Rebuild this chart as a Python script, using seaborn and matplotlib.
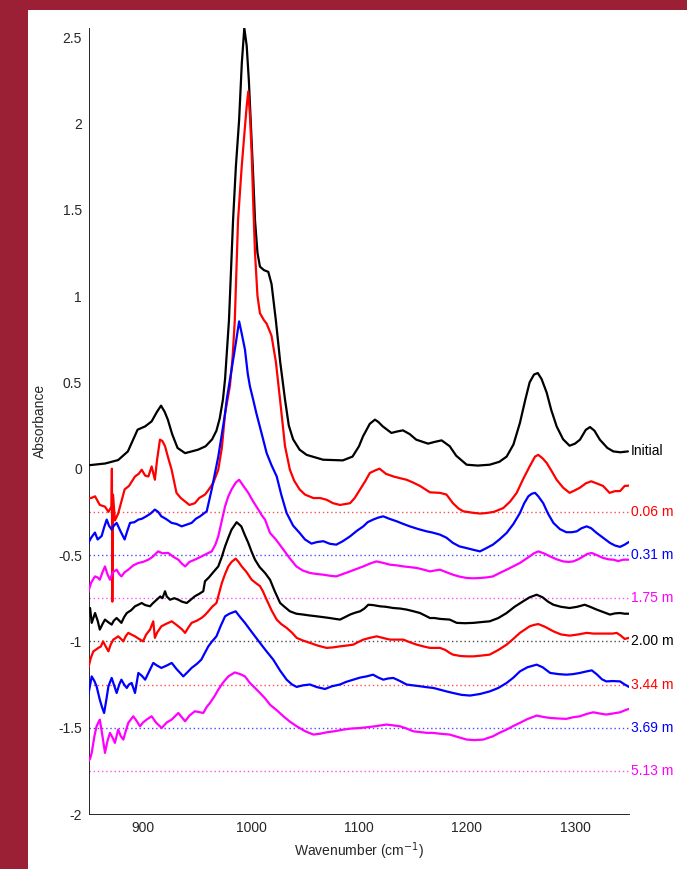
import numpy as np
import pandas as pd
import matplotlib
matplotlib.use("Agg")
import matplotlib.pyplot as plt
from matplotlib.patches import Rectangle
import seaborn as sns

# spectra (wavenumber, absorbance with offsets already applied)
initial_x = [850, 865, 877, 886, 895, 902, 908, 913, 916.7, 920, 923, 927, 932, 939, 951, 958, 964, 968, 971, 974,
             976, 979.6, 983.4, 986, 989, 991.5, 993.8, 996, 998, 999.7, 1002, 1003.7, 1006, 1008.3, 1012, 1016, 1019,
             1023, 1027, 1031.5, 1035, 1039, 1045, 1051.5, 1066.7, 1085, 1094, 1100, 1103.7, 1110, 1114.8, 1118, 1122,
             1130, 1135, 1140.7, 1147, 1153, 1164, 1170, 1176.5, 1184, 1190, 1199.7, 1210, 1221, 1230, 1236.7, 1243,
             1249, 1254, 1258, 1262, 1265.5, 1269, 1273.8, 1278, 1283, 1289, 1295, 1300, 1304.6, 1310, 1313.9, 1318,
             1323, 1330, 1335.5, 1342, 1349]
initial_y = [0.02, 0.03, 0.05, 0.10, 0.226, 0.245, 0.274, 0.33, 0.365, 0.33, 0.284, 0.20, 0.12, 0.09, 0.11, 0.13, 0.17,
             0.22, 0.29, 0.40, 0.52, 0.86, 1.44, 1.75, 2.02, 2.35, 2.552, 2.45, 2.25, 2.02, 1.70, 1.44, 1.25, 1.17, 1.15,
             1.14, 1.07, 0.86, 0.62, 0.40, 0.25, 0.17, 0.11, 0.08, 0.052, 0.048, 0.07, 0.13, 0.187, 0.26, 0.284, 0.27,
             0.245, 0.207, 0.215, 0.222, 0.20, 0.168, 0.145, 0.155, 0.164, 0.13, 0.075, 0.023, 0.018, 0.023, 0.04,
             0.07, 0.14, 0.265, 0.40, 0.50, 0.545, 0.554, 0.52, 0.44, 0.34, 0.245, 0.17, 0.133, 0.145, 0.168, 0.225,
             0.241, 0.22, 0.168, 0.12, 0.10, 0.095, 0.10]

red1_x = [849.4, 852, 855.6, 860, 864.8, 868, 870.8, 871.2, 871.6, 872.2, 874, 877, 880, 883, 887, 892.6, 896, 898.8,
          902, 905, 908, 911, 913, 915.7, 918, 920.4, 923, 926.5, 931, 935, 939, 943, 948, 952, 957.4, 961, 965, 969.7,
          973, 976, 980.5, 983, 985, 988, 991.4, 994, 996, 997.5, 999, 1000.6, 1002, 1003.7, 1006, 1008.3, 1012,
          1014.5, 1019, 1023, 1026.9, 1031.5, 1036, 1040, 1045, 1050, 1057.7, 1064, 1070, 1076, 1082.4, 1091.7, 1096,
          1101, 1106, 1110, 1115, 1119, 1125, 1131.8, 1138, 1144, 1150, 1156.5, 1165.7, 1175, 1181, 1187, 1192,
          1196.6, 1205, 1212, 1218, 1225, 1233.6, 1240, 1246, 1252, 1258, 1263, 1266, 1270, 1273.8, 1278, 1283, 1289,
          1295, 1300, 1304.6, 1310, 1315, 1320, 1326, 1332, 1337, 1341.7, 1346, 1350]
red1_y = [-0.17, -0.17, -0.16, -0.21, -0.22, -0.25, -0.22, 0.0, -0.77, -0.15, -0.30, -0.26, -0.19, -0.12, -0.10,
          -0.045, -0.03, -0.006, -0.04, -0.045, 0.013, -0.064, 0.05, 0.168, 0.16, 0.13, 0.07, -0.006, -0.14, -0.17,
          -0.19, -0.21, -0.20, -0.17, -0.15, -0.12, -0.083, -0.006, 0.12, 0.32, 0.48, 0.65, 0.86, 1.44, 1.75, 1.95,
          2.10, 2.185, 2.05, 1.83, 1.55, 1.25, 1.00, 0.90, 0.86, 0.84, 0.77, 0.62, 0.40, 0.13, -0.006, -0.07, -0.12,
          -0.15, -0.17, -0.17, -0.18, -0.20, -0.21, -0.20, -0.17, -0.12, -0.07, -0.025, -0.01, 0.0, -0.03, -0.045,
          -0.055, -0.064, -0.08, -0.10, -0.137, -0.14, -0.15, -0.2, -0.23, -0.247, -0.255, -0.26, -0.257, -0.25,
          -0.228, -0.19, -0.14, -0.06, 0.013, 0.07, 0.08, 0.06, 0.033, -0.01, -0.064, -0.11, -0.14, -0.125, -0.11,
          -0.085, -0.073, -0.085, -0.10, -0.14, -0.13, -0.13, -0.10, -0.098]

blue1_x = [849.4, 852, 855.5, 858, 861.7, 864, 866.4, 868.5, 871, 873, 875.6, 879, 883, 885.5, 888, 892, 895.7, 899,
           903, 907, 911, 914, 917, 921, 926.5, 931, 935.8, 940, 945, 949, 952.8, 959, 963.6, 966.5, 969.7, 973, 976,
           977.5, 982, 986, 989, 991.5, 994.4, 997, 999, 1002, 1005, 1010, 1014.5, 1019, 1023.8, 1028, 1033, 1039,
           1045, 1050, 1056, 1061, 1067, 1073, 1079, 1085, 1091.7, 1098, 1104, 1108, 1113, 1118, 1122.5, 1128, 1135,
           1141, 1147, 1155, 1162.7, 1168, 1175, 1181, 1187, 1193, 1199.7, 1206, 1212, 1218, 1224, 1230, 1236.7, 1243,
           1249, 1253, 1256.8, 1260, 1263, 1266, 1270.6, 1275, 1280, 1286, 1292, 1297, 1301.6, 1306, 1310.8, 1315,
           1320, 1326, 1332.4, 1337, 1341.7, 1346, 1350]
blue1_y = [-0.43, -0.40, -0.37, -0.41, -0.39, -0.34, -0.295, -0.33, -0.353, -0.33, -0.314, -0.36, -0.41, -0.36,
           -0.314, -0.31, -0.295, -0.29, -0.276, -0.26, -0.237, -0.25, -0.276, -0.29, -0.314, -0.32, -0.334, -0.325,
           -0.314, -0.29, -0.276, -0.247, -0.12, -0.03, 0.07, 0.20, 0.32, 0.40, 0.573, 0.73, 0.853, 0.78, 0.69, 0.55,
           0.477, 0.40, 0.32, 0.20, 0.09, 0.02, -0.045, -0.15, -0.257, -0.33, -0.372, -0.41, -0.434, -0.425, -0.42,
           -0.435, -0.44, -0.42, -0.392, -0.36, -0.334, -0.31, -0.295, -0.283, -0.276, -0.29, -0.305, -0.32, -0.334,
           -0.35, -0.363, -0.37, -0.382, -0.40, -0.43, -0.45, -0.46, -0.47, -0.479, -0.46, -0.44, -0.41, -0.372, -0.32,
           -0.257, -0.20, -0.16, -0.145, -0.14, -0.16, -0.2, -0.26, -0.314, -0.35, -0.368, -0.368, -0.363, -0.345,
           -0.334, -0.345, -0.372, -0.40, -0.43, -0.445, -0.453, -0.44, -0.424]

mag1_x = [849, 852, 855.5, 858, 860, 862.5, 864.8, 867, 869.4, 872, 875.6, 878, 880, 883, 886.4, 891, 895.7, 900, 905,
          909, 914, 918, 923.4, 928, 932.7, 936, 939, 943, 948, 952, 957.4, 963.6, 967, 969.7, 973, 976, 979, 982, 986,
          989, 993, 997.5, 1002, 1006.8, 1010, 1013, 1017.6, 1023, 1030, 1036, 1042, 1048, 1054.6, 1061, 1067, 1073,
          1079, 1085, 1091.7, 1098, 1104, 1110, 1116, 1122, 1128.7, 1135, 1141, 1147, 1153.4, 1160, 1165.7, 1170,
          1175, 1181, 1187, 1193, 1199.7, 1206, 1212, 1218, 1224, 1230, 1236.7, 1243, 1249, 1254, 1258, 1262, 1266,
          1271, 1277, 1283, 1289, 1294, 1298.4, 1303, 1307.7, 1311, 1315.5, 1320, 1326, 1331, 1335.5, 1340, 1344.7,
          1350]
mag1_y = [-0.72, -0.66, -0.624, -0.63, -0.643, -0.60, -0.566, -0.61, -0.643, -0.60, -0.585, -0.61, -0.624, -0.60,
          -0.585, -0.56, -0.546, -0.54, -0.527, -0.51, -0.479, -0.49, -0.488, -0.51, -0.527, -0.55, -0.566, -0.54,
          -0.527, -0.515, -0.498, -0.479, -0.44, -0.392, -0.30, -0.218, -0.16, -0.12, -0.08, -0.064, -0.10, -0.14,
          -0.19, -0.237, -0.27, -0.295, -0.372, -0.41, -0.469, -0.52, -0.566, -0.59, -0.604, -0.61, -0.614, -0.62,
          -0.624, -0.61, -0.595, -0.58, -0.566, -0.55, -0.537, -0.545, -0.556, -0.56, -0.566, -0.57, -0.575, -0.585,
          -0.595, -0.59, -0.585, -0.60, -0.614, -0.625, -0.633, -0.635, -0.633, -0.63, -0.624, -0.605, -0.585, -0.565,
          -0.546, -0.525, -0.508, -0.49, -0.479, -0.49, -0.508, -0.525, -0.537, -0.54, -0.537, -0.525, -0.508, -0.495,
          -0.488, -0.50, -0.517, -0.525, -0.527, -0.535, -0.527, -0.527]

black2_x = [851, 852.5, 855.6, 858, 860, 862.5, 864.8, 868, 871, 873, 875.6, 878, 880, 882.5, 885, 889, 892.6, 895,
            898.8, 902, 906.5, 909, 912.7, 916, 918, 920.4, 922, 925, 929, 932.7, 936, 940.5, 944, 948, 952, 955.8,
            957.4, 961, 965, 969.7, 973, 976, 979, 982, 986.7, 991, 994, 997.5, 1000.5, 1003.7, 1008, 1013, 1017.6,
            1022, 1027, 1031, 1036, 1042, 1048.4, 1054, 1060.8, 1067, 1073, 1078, 1082.4, 1087, 1091.7, 1096, 1101,
            1105, 1108.6, 1113, 1119.4, 1125, 1131.8, 1138, 1144, 1150, 1156.5, 1161, 1165.7, 1170, 1175, 1184, 1190.5,
            1198, 1206, 1214, 1221, 1229, 1236.7, 1244, 1252, 1258, 1264.5, 1270, 1275, 1280, 1287, 1295, 1302, 1309,
            1314, 1320, 1326, 1332.4, 1337, 1341.7, 1346, 1350]
black2_y = [-0.807, -0.893, -0.836, -0.88, -0.932, -0.90, -0.874, -0.89, -0.903, -0.88, -0.865, -0.88, -0.893, -0.86,
            -0.836, -0.82, -0.797, -0.79, -0.778, -0.79, -0.797, -0.78, -0.759, -0.74, -0.75, -0.71, -0.74, -0.759,
            -0.75, -0.759, -0.77, -0.778, -0.76, -0.739, -0.725, -0.71, -0.652, -0.63, -0.60, -0.566, -0.51, -0.45,
            -0.40, -0.353, -0.31, -0.334, -0.38, -0.43, -0.48, -0.527, -0.57, -0.604, -0.643, -0.71, -0.778, -0.80,
            -0.826, -0.84, -0.845, -0.85, -0.855, -0.86, -0.865, -0.87, -0.874, -0.86, -0.845, -0.835, -0.826, -0.81,
            -0.788, -0.79, -0.797, -0.80, -0.807, -0.81, -0.816, -0.825, -0.836, -0.85, -0.865, -0.865, -0.870, -0.874,
            -0.893, -0.895, -0.893, -0.888, -0.884, -0.865, -0.836, -0.80, -0.768, -0.745, -0.73, -0.745, -0.77,
            -0.788, -0.80, -0.807, -0.80, -0.788, -0.80, -0.816, -0.83, -0.845, -0.838, -0.836, -0.84, -0.84]

red2_x = [849.4, 851.5, 854, 856, 858.6, 861, 863, 865.5, 868, 870, 872.5, 875, 877, 879.5, 881.8, 884, 886.4, 889,
          892.6, 896, 900, 903, 906.5, 909.5, 911, 913, 917, 921, 926.6, 930, 932.7, 936, 939, 942, 945, 950, 954, 957,
          960.5, 964, 968, 970.5, 973, 976, 979, 982, 985.8, 988.5, 991.4, 996, 1000.6, 1005, 1008.3, 1011, 1014.5,
          1019, 1023.8, 1028, 1033, 1038, 1042.3, 1048, 1054.6, 1062, 1070, 1076, 1082.4, 1088, 1094.7, 1099, 1104,
          1110, 1116.4, 1122, 1128.7, 1135, 1141, 1147, 1153.4, 1160, 1165.7, 1170, 1175, 1180, 1184, 1187, 1194,
          1200, 1206, 1214, 1221, 1229, 1236.7, 1243, 1249, 1254, 1258, 1262, 1266, 1272, 1280, 1287, 1295, 1303,
          1310.8, 1317, 1323, 1330, 1335, 1338.6, 1342, 1346, 1350]
red2_y = [-1.154, -1.10, -1.058, -1.05, -1.038, -1.03, -1.0, -1.03, -1.058, -1.02, -0.99, -0.98, -0.971, -0.985, -1.0,
          -0.97, -0.951, -0.96, -0.971, -0.985, -1.0, -0.96, -0.932, -0.884, -0.98, -0.95, -0.913, -0.90, -0.884,
          -0.90, -0.913, -0.93, -0.951, -0.92, -0.893, -0.88, -0.865, -0.85, -0.826, -0.80, -0.778, -0.72, -0.662,
          -0.61, -0.566, -0.54, -0.521, -0.54, -0.566, -0.60, -0.643, -0.665, -0.68, -0.71, -0.759, -0.82, -0.874,
          -0.90, -0.922, -0.95, -0.98, -0.995, -1.009, -1.025, -1.038, -1.035, -1.029, -1.025, -1.019, -1.005, -0.99,
          -0.98, -0.971, -0.98, -0.99, -0.99, -0.99, -1.005, -1.019, -1.03, -1.038, -1.038, -1.038, -1.05, -1.067,
          -1.077, -1.085, -1.087, -1.087, -1.082, -1.077, -1.05, -1.019, -0.985, -0.951, -0.93, -0.913, -0.905, -0.9,
          -0.915, -0.942, -0.96, -0.967, -0.96, -0.951, -0.955, -0.955, -0.955, -0.955, -0.951, -0.965, -0.986, -0.98]

blue2_x = [849.4, 852.5, 855, 857, 860, 862, 864, 866, 868, 871, 873, 875.6, 878, 880, 882.5, 885, 887, 889.5, 892.6,
           895.7, 899, 902, 906, 909.5, 913, 917, 922, 926.6, 931, 934, 937.3, 941, 945, 950, 954, 957, 960.5, 964,
           968, 972, 976, 980, 985.8, 990, 994.4, 999, 1003.7, 1008.3, 1014, 1020.6, 1027, 1033, 1038, 1042.3, 1048,
           1054.6, 1061, 1068.5, 1075, 1082.4, 1088, 1094.7, 1101, 1107, 1113, 1118, 1122.5, 1127, 1131.8, 1138, 1144,
           1150, 1156.5, 1162, 1168.8, 1175, 1181, 1187, 1195, 1202.8, 1212, 1221, 1229, 1236.7, 1243, 1249, 1256,
           1264.5, 1270, 1277, 1285, 1292, 1298, 1304.6, 1310, 1315.5, 1320, 1325, 1329, 1335, 1341.7, 1346, 1350]
blue2_y = [-1.309, -1.203, -1.23, -1.26, -1.338, -1.38, -1.415, -1.34, -1.26, -1.212, -1.25, -1.299, -1.25, -1.222,
           -1.25, -1.27, -1.25, -1.241, -1.299, -1.183, -1.20, -1.222, -1.17, -1.125, -1.14, -1.154, -1.14, -1.125,
           -1.16, -1.18, -1.203, -1.18, -1.154, -1.13, -1.106, -1.07, -1.029, -1.0, -0.971, -0.91, -0.855, -0.84,
           -0.826, -0.86, -0.893, -0.932, -0.971, -1.009, -1.055, -1.106, -1.17, -1.222, -1.25, -1.264, -1.255, -1.25,
           -1.265, -1.276, -1.26, -1.25, -1.235, -1.222, -1.21, -1.203, -1.193, -1.21, -1.222, -1.215, -1.212, -1.23,
           -1.25, -1.255, -1.26, -1.265, -1.27, -1.28, -1.29, -1.299, -1.31, -1.314, -1.305, -1.29, -1.27, -1.241,
           -1.21, -1.174, -1.15, -1.135, -1.15, -1.183, -1.19, -1.193, -1.19, -1.183, -1.175, -1.168, -1.19, -1.22,
           -1.232, -1.23, -1.232, -1.25, -1.264]

mag2_x = [849.4, 851, 852.5, 855, 857, 860, 862.5, 864.8, 867, 869.4, 872, 874, 877, 879.5, 881.8, 884, 886.4, 891, 894,
          897.2, 900, 903.4, 908, 912, 917.3, 922, 926.6, 932.7, 936, 939, 943, 948, 952, 955.8, 959, 962, 966, 969.7,
          974, 979, 985, 990, 994.4, 999, 1003.7, 1008.3, 1013, 1017.6, 1024, 1030, 1036, 1042.3, 1050, 1057.7, 1064,
          1070, 1078, 1085.5, 1093, 1101, 1108, 1114.8, 1120, 1125.6, 1132, 1138, 1144, 1150.3, 1156, 1162.7, 1168,
          1175, 1184, 1192, 1199.7, 1207, 1215, 1224, 1230, 1236.7, 1243, 1249, 1256, 1264.5, 1270, 1277, 1285, 1292,
          1298, 1304.6, 1311, 1317, 1323, 1329, 1335, 1341.7, 1346, 1350]
mag2_y = [-1.695, -1.68, -1.646, -1.55, -1.492, -1.453, -1.55, -1.646, -1.58, -1.53, -1.56, -1.588, -1.511, -1.55,
          -1.569, -1.52, -1.472, -1.434, -1.46, -1.492, -1.47, -1.453, -1.434, -1.47, -1.502, -1.47, -1.453, -1.415,
          -1.44, -1.463, -1.43, -1.405, -1.41, -1.415, -1.38, -1.357, -1.32, -1.28, -1.24, -1.203, -1.18, -1.19,
          -1.203, -1.241, -1.27, -1.299, -1.33, -1.367, -1.40, -1.434, -1.465, -1.492, -1.52, -1.54, -1.535, -1.527,
          -1.52, -1.511, -1.505, -1.502, -1.497, -1.492, -1.487, -1.482, -1.487, -1.492, -1.505, -1.521, -1.525,
          -1.53, -1.53, -1.535, -1.54, -1.555, -1.569, -1.572, -1.569, -1.55, -1.53, -1.511, -1.49, -1.472, -1.45,
          -1.43, -1.437, -1.444, -1.447, -1.449, -1.44, -1.434, -1.42, -1.411, -1.418, -1.424, -1.418, -1.411, -1.40,
          -1.391]

# label text, colour and the offset level each one sits on
labels = ['0.06 m', '0.31 m', '1.75 m', '2.00 m', '3.44 m', '3.69 m', '5.13 m']
offsets = [-0.25, -0.5, -0.75, -1.0, -1.25, -1.5, -1.75]
label_colors = ['#ff0000', '#0000ff', '#ff00ff', '#000000', '#ff0000', '#0000ff', '#ff00ff']
initial_label_y = 0.1

spectra = [
    (initial_x, initial_y, '#000000'),
    (red1_x, red1_y, '#ff0000'),
    (blue1_x, blue1_y, '#0000ff'),
    (mag1_x, mag1_y, '#ff00ff'),
    (black2_x, black2_y, '#000000'),
    (red2_x, red2_y, '#ff0000'),
    (blue2_x, blue2_y, '#0000ff'),
    (mag2_x, mag2_y, '#ff00ff'),
]

sns.set_style('white')
plt.rcParams['font.family'] = ['Liberation Sans', 'DejaVu Sans']
plt.rcParams['axes.unicode_minus'] = False

fig = plt.figure(figsize=(6.87, 8.69), dpi=100, facecolor='#9b1f35')
# white slide panel behind the axes
panel = Rectangle((28 / 687, 0), 1 - 28 / 687, 1 - 10 / 869, transform=fig.transFigure,
                  facecolor='white', edgecolor='none', zorder=-10)
fig.add_artist(panel)
ax = fig.add_axes([89 / 687, 1 - 814 / 869, 540 / 687, (814 - 28.4) / 869])
ax.set_zorder(1)
ax.set_facecolor('white')

# dotted reference lines at each offset
for off, c in zip(offsets, label_colors):
    ax.hlines(off, 850, 1350, colors=c, linestyles=(0, (1, 2)), linewidth=1.0, alpha=0.7, zorder=1)

for xs, ys, c in spectra:
    sns.lineplot(x=xs, y=ys, ax=ax, color=c, linewidth=1.6, estimator=None, sort=False, zorder=3)

ax.text(1352, initial_label_y, 'Initial', color='#000000', fontsize=10, va='center', ha='left', clip_on=False)
for lab, off, c in zip(labels, offsets, label_colors):
    ax.text(1352, off, lab, color=c, fontsize=10, va='center', ha='left', clip_on=False)

ax.set_xlim(850, 1350)
ax.set_ylim(-2, 2.55)
ax.set_xticks([900, 1000, 1100, 1200, 1300])
ax.set_yticks([-2, -1.5, -1, -0.5, 0, 0.5, 1, 1.5, 2, 2.5])
ax.set_yticklabels(['-2', '-1.5', '-1', '-0.5', '0', '0.5', '1', '1.5', '2', '2.5'])
ax.tick_params(direction='in', length=4, width=0.7, labelsize=10, colors='#262626', pad=5)
for side in ['top', 'right']:
    ax.spines[side].set_visible(False)
for side in ['left', 'bottom']:
    ax.spines[side].set_color('#262626')
    ax.spines[side].set_linewidth(0.7)

ax.set_xlabel('Wavenumber (cm$^{-1}$)', fontsize=10, color='#262626')
ax.set_ylabel('Absorbance', fontsize=10, color='#262626', labelpad=8)

fig.savefig('out.png', dpi=100, facecolor=fig.get_facecolor())
